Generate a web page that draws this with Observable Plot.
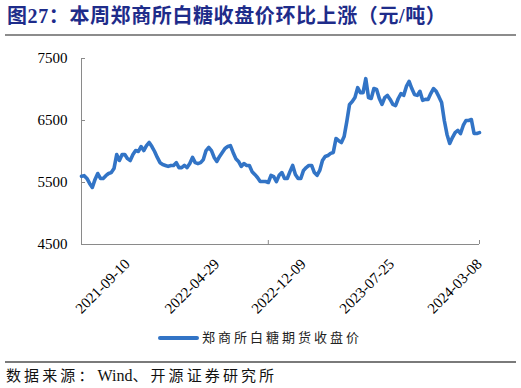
<!DOCTYPE html>
<html><head><meta charset="utf-8">
<script src="https://cdn.jsdelivr.net/npm/d3@7"></script>
<script src="https://cdn.jsdelivr.net/npm/@observablehq/plot@0.6"></script>
<style>
body{margin:0;background:#fff;}
#wrap{position:relative;width:521px;height:388px;overflow:hidden;font-family:"Liberation Serif","Noto Sans CJK SC",serif;}
#title{position:absolute;top:4px;left:7px;font-size:20px;font-weight:bold;color:#1E2C8A;line-height:24px;white-space:nowrap;letter-spacing:0.6px;}
.rule{position:absolute;left:5px;width:511px;height:2px;background:#8c8c8c;}
#chart{position:absolute;top:38px;left:0;}
#legend{position:absolute;top:328px;left:158px;font-size:13px;line-height:18px;letter-spacing:3px;color:#222;white-space:nowrap;font-family:"Noto Sans CJK SC",sans-serif;}
#legend .sw{display:inline-block;width:41px;height:4px;background:#3274C6;vertical-align:middle;margin-right:3px;border-radius:2px;}
#source{position:absolute;top:365px;left:6px;font-size:15px;line-height:20px;color:#111;white-space:nowrap;}
#source .cjk{font-family:"Noto Sans CJK SC",sans-serif;letter-spacing:3.1px;}
#source .lat{letter-spacing:0;margin-left:1px;font-size:16px;}
</style></head><body>
<div id="wrap">
  <div id="title"></div>
  <div class="rule" style="top:34px"></div>
  <div id="chart"></div>
  <div id="legend"><span class="sw"></span><span id="legendText"></span></div>
  <div class="rule" style="top:361px;height:2px;background:#7a7a7a"></div>
  <div id="source"></div>
</div>
<script>
const titleText = "图27：本周郑商所白糖收盘价环比上涨（元/吨）";
const seriesName = "郑商所白糖期货收盘价";
const sourceParts = ["数据来源：", "Wind", "、开源证券研究所"];
const startDate = "2021-05-14"; // weekly closes, Fridays
const values = [
  5600, 5610, 5565, 5485, 5420, 5550, 5645, 5565, 5565, 5610,
  5645, 5660, 5725, 5950, 5855, 5950, 5950, 5885, 5855, 5950,
  6015, 6000, 6080, 6015, 6095, 6145, 6080, 6000, 5905, 5820,
  5790, 5775, 5760, 5775, 5775, 5820, 5740, 5740, 5775, 5740,
  5805, 5905, 5820, 5805, 5820, 5870, 6015, 6065, 6015, 5905,
  5840, 5920, 5985, 6050, 6080, 6095, 5985, 5885, 5840, 5760,
  5805, 5775, 5775, 5675, 5630, 5580, 5515, 5515, 5515, 5500,
  5615, 5595, 5515, 5615, 5660, 5565, 5565, 5675, 5775, 5630,
  5565, 5565, 5695, 5740, 5775, 5775, 5660, 5615, 5695, 5855,
  5920, 5935, 5970, 5985, 6210, 6175, 6145, 6240, 6485, 6760,
  6805, 6870, 7030, 6950, 6950, 7175, 6870, 6855, 7015, 7000,
  6855, 6760, 6870, 6905, 6840, 6760, 6740, 6855, 6935, 6905,
  7050, 7130, 7015, 6920, 6905, 6970, 6825, 6840, 6840, 6935,
  7015, 6970, 6885, 6790, 6500, 6275, 6130, 6225, 6305, 6340,
  6290, 6420, 6500, 6500, 6515, 6290, 6290, 6305
];
const labelDates = ["2021-09-10","2022-04-29","2022-12-09","2023-07-25","2024-03-08"];
const xTickMarks = ["2022-09-09","2024-03-08"];
const yTicks = [4500, 5500, 6500, 7500];

document.getElementById("title").textContent = titleText;
document.getElementById("legendText").textContent = seriesName;
const src = document.getElementById("source");
sourceParts.forEach((t, i) => {
  const s = document.createElement("span");
  s.className = i === 1 ? "lat" : "cjk";
  s.textContent = t;
  src.appendChild(s);
});

const parse = d3.utcParse("%Y-%m-%d");
const start = parse(startDate);
const data = values.map((v, i) => ({date: d3.utcDay.offset(start, 7 * i), value: v}));
const axisColor = "#8a8a8a";

const chart = Plot.plot({
  width: 521, height: 280,
  marginLeft: 81, marginRight: 42, marginTop: 20, marginBottom: 74,
  style: {fontFamily: '"Liberation Serif", serif', fontSize: "15px", color: "#000", background: "transparent", overflow: "visible"},
  x: {type: "utc", domain: [data[0].date, data[data.length - 1].date], label: null},
  y: {domain: [4500, 7500], label: null},
  marks: [
    Plot.ruleX([data[0].date], {stroke: axisColor}),
    Plot.ruleY([4500], {stroke: axisColor}),
    Plot.axisY({ticks: yTicks, tickSize: 0, tickPadding: 14, tickFormat: d => String(d), label: null, fontSize: 15}),
    Plot.axisY({ticks: yTicks, tickSize: 4, dx: 4, tickFormat: () => "", label: null, stroke: axisColor}),
    Plot.axisX({ticks: labelDates.map(parse), tickSize: 0, tickRotate: -45, tickPadding: 17, tickFormat: d3.utcFormat("%Y-%m-%d"), label: null, fontSize: 15}),
    Plot.axisX({ticks: xTickMarks.map(parse), tickSize: 4, dy: -4, tickFormat: () => "", label: null, stroke: axisColor}),
    Plot.line(data, {x: "date", y: "value", stroke: "#3274C6", strokeWidth: 3.6, strokeLinejoin: "round"})
  ]
});
document.getElementById("chart").appendChild(chart);
</script>
</body></html>
